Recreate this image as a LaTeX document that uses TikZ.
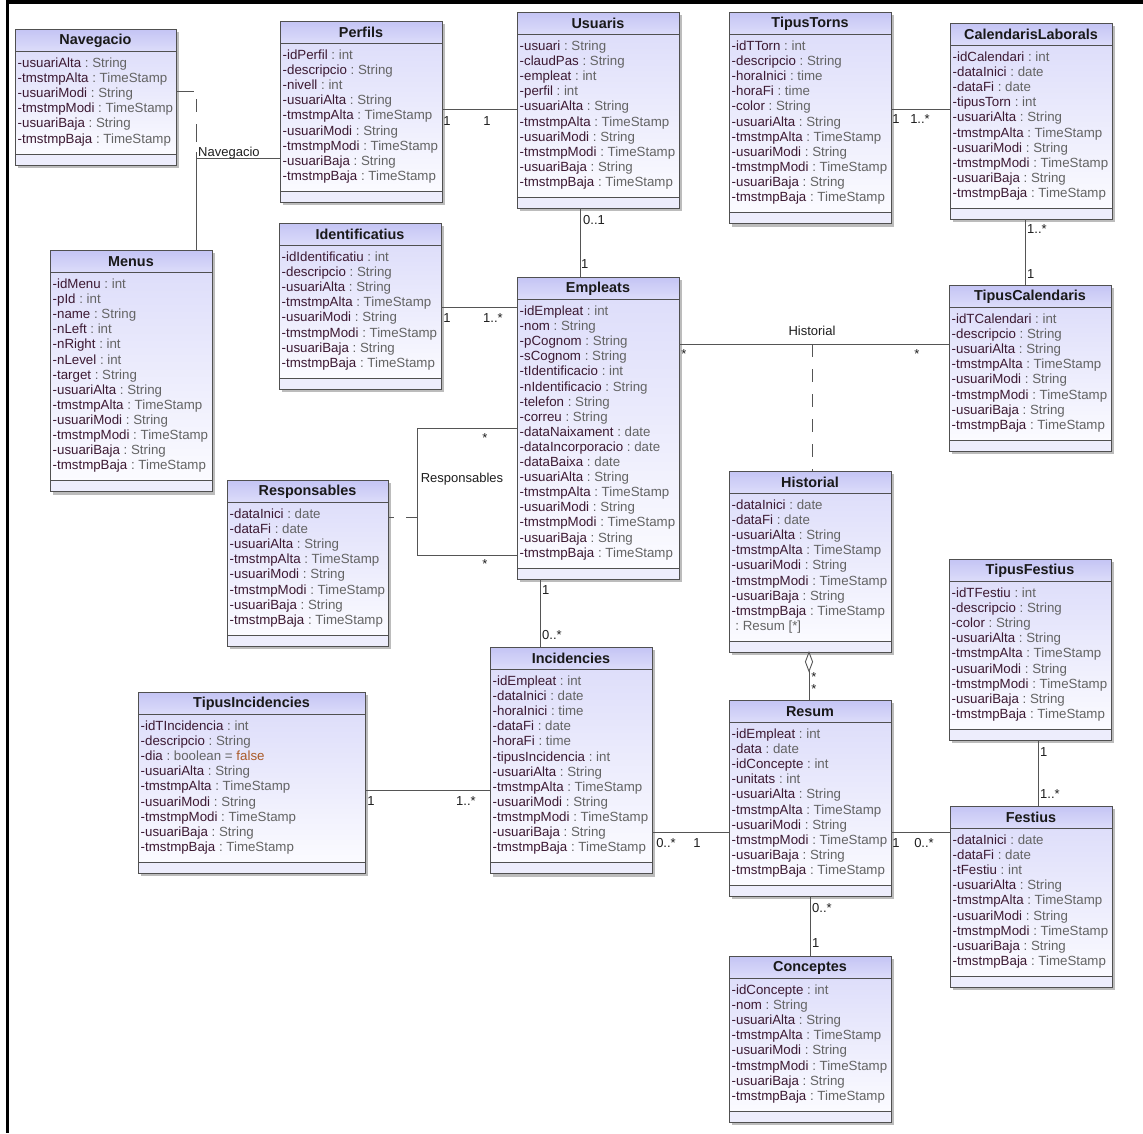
\documentclass[tikz,border=0pt]{standalone}
\usepackage{fontspec}
\setmainfont{Liberation Sans}
\usetikzlibrary{calc}

\definecolor{edgecol}{RGB}{80,80,80}
\definecolor{linkcol}{RGB}{85,85,85}
\definecolor{headtop}{RGB}{196,196,244}
\definecolor{headbot}{RGB}{220,220,250}
\definecolor{bodytop}{RGB}{222,222,250}
\definecolor{bodybot}{RGB}{251,251,255}
\definecolor{shadowcol}{RGB}{160,160,160}
\definecolor{namecol}{RGB}{60,25,50}
\definecolor{typecol}{RGB}{100,100,100}
\definecolor{valcol}{RGB}{170,90,40}
\definecolor{labelcol}{RGB}{30,30,30}

% one attribute row: name in dark, type in grey
\newcommand\at[2]{\textcolor{namecol}{#1}\textcolor{typecol}{\ :\ #2}}

% UML class box: #1 name, #2 left, #3 top, #4 width, #5 rows, #6 title, #7 rows
\newcommand\umlclass[7]{%
  \pgfmathsetmacro\clsh{60.5+(#5-1)*15.1}%
  \pgfmathsetmacro\clscomp{\clsh-11}%
  \fill[shadowcol, opacity=0.7] (#2+3,#3+3) rectangle ++(#4,\clsh);
  \shade[top color=headtop, bottom color=headbot] (#2,#3) rectangle ++(#4,22);
  \shade[top color=bodytop, bottom color=bodybot] (#2,#3+22) rectangle ++(#4,\clscomp-22);
  \fill[bodytop!55] (#2,#3+\clscomp) rectangle ++(#4,11);
  \draw[edgecol, line width=0.9pt] (#2,#3+22) -- ++(#4,0) (#2,#3+\clscomp) -- ++(#4,0);
  \node[classframe, minimum width=#4pt, minimum height=\clsh pt, anchor=north west] (#1) at (#2,#3) {};
  \node[classtitle] (#1-title) at (#2+#4/2,#3+11.5) {#6};
  \foreach \cattr [count=\k from 0] in {#7}
    \node[attrtext, anchor=base west] (#1-row\k) at (#2+2.5,#3+38.5+\k*15.1) {\cattr};
}

\begin{document}
\begin{tikzpicture}[x=1pt,y=-1pt,
  link/.style={draw=linkcol, line width=0.9pt},
  assocdash/.style={link, dash pattern=on 13pt off 12pt},
  mult/.style={font=\fontsize{13}{15}\selectfont, text=labelcol, inner sep=0pt},
  classframe/.style={draw=edgecol, line width=1pt, inner sep=0pt, outer sep=0pt},
  classtitle/.style={font=\fontsize{14.4}{16}\selectfont\bfseries, text=black!90, inner sep=0pt},
  attrtext/.style={font=\fontsize{13.3}{15}\selectfont, inner sep=0pt},
]
\useasboundingbox (0,0) rectangle (1143,1133);
\fill[white] (0,0) rectangle (1143,1133);

% page frame (left and top rules)
\draw[line width=3.5pt] (7.5,0) -- (7.5,1133);
\draw[line width=4pt] (6,2) -- (1143,2);

% ---------------- classes ----------------
\umlclass{navegacio}{15}{29}{161}{6}{Navegacio}{
  \at{-usuariAlta}{String}, \at{-tmstmpAlta}{TimeStamp}, \at{-usuariModi}{String},
  \at{-tmstmpModi}{TimeStamp}, \at{-usuariBaja}{String}, \at{-tmstmpBaja}{TimeStamp}}

\umlclass{perfils}{280}{21}{162}{9}{Perfils}{
  \at{-idPerfil}{int}, \at{-descripcio}{String}, \at{-nivell}{int},
  \at{-usuariAlta}{String}, \at{-tmstmpAlta}{TimeStamp}, \at{-usuariModi}{String},
  \at{-tmstmpModi}{TimeStamp}, \at{-usuariBaja}{String}, \at{-tmstmpBaja}{TimeStamp}}

\umlclass{usuaris}{517}{12}{162}{10}{Usuaris}{
  \at{-usuari}{String}, \at{-claudPas}{String}, \at{-empleat}{int}, \at{-perfil}{int},
  \at{-usuariAlta}{String}, \at{-tmstmpAlta}{TimeStamp}, \at{-usuariModi}{String},
  \at{-tmstmpModi}{TimeStamp}, \at{-usuariBaja}{String}, \at{-tmstmpBaja}{TimeStamp}}

\umlclass{tipustorns}{729}{12}{162}{11}{TipusTorns}{
  \at{-idTTorn}{int}, \at{-descripcio}{String}, \at{-horaInici}{time}, \at{-horaFi}{time},
  \at{-color}{String},
  \at{-usuariAlta}{String}, \at{-tmstmpAlta}{TimeStamp}, \at{-usuariModi}{String},
  \at{-tmstmpModi}{TimeStamp}, \at{-usuariBaja}{String}, \at{-tmstmpBaja}{TimeStamp}}

\umlclass{callaborals}{950}{23}{162}{10}{CalendarisLaborals}{
  \at{-idCalendari}{int}, \at{-dataInici}{date}, \at{-dataFi}{date}, \at{-tipusTorn}{int},
  \at{-usuariAlta}{String}, \at{-tmstmpAlta}{TimeStamp}, \at{-usuariModi}{String},
  \at{-tmstmpModi}{TimeStamp}, \at{-usuariBaja}{String}, \at{-tmstmpBaja}{TimeStamp}}

\umlclass{identificatius}{279}{223}{162}{8}{Identificatius}{
  \at{-idIdentificatiu}{int}, \at{-descripcio}{String},
  \at{-usuariAlta}{String}, \at{-tmstmpAlta}{TimeStamp}, \at{-usuariModi}{String},
  \at{-tmstmpModi}{TimeStamp}, \at{-usuariBaja}{String}, \at{-tmstmpBaja}{TimeStamp}}

\umlclass{empleats}{517}{277}{162}{17}{Empleats}{
  \at{-idEmpleat}{int}, \at{-nom}{String}, \at{-pCognom}{String}, \at{-sCognom}{String},
  \at{-tIdentificacio}{int}, \at{-nIdentificacio}{String}, \at{-telefon}{String},
  \at{-correu}{String}, \at{-dataNaixament}{date}, \at{-dataIncorporacio}{date},
  \at{-dataBaixa}{date},
  \at{-usuariAlta}{String}, \at{-tmstmpAlta}{TimeStamp}, \at{-usuariModi}{String},
  \at{-tmstmpModi}{TimeStamp}, \at{-usuariBaja}{String}, \at{-tmstmpBaja}{TimeStamp}}

\umlclass{tipuscal}{949}{285}{162}{8}{TipusCalendaris}{
  \at{-idTCalendari}{int}, \at{-descripcio}{String},
  \at{-usuariAlta}{String}, \at{-tmstmpAlta}{TimeStamp}, \at{-usuariModi}{String},
  \at{-tmstmpModi}{TimeStamp}, \at{-usuariBaja}{String}, \at{-tmstmpBaja}{TimeStamp}}

\umlclass{menus}{50}{250}{162}{13}{Menus}{
  \at{-idMenu}{int}, \at{-pId}{int}, \at{-name}{String}, \at{-nLeft}{int},
  \at{-nRight}{int}, \at{-nLevel}{int}, \at{-target}{String},
  \at{-usuariAlta}{String}, \at{-tmstmpAlta}{TimeStamp}, \at{-usuariModi}{String},
  \at{-tmstmpModi}{TimeStamp}, \at{-usuariBaja}{String}, \at{-tmstmpBaja}{TimeStamp}}

\umlclass{responsables}{227}{480}{161}{8}{Responsables}{
  \at{-dataInici}{date}, \at{-dataFi}{date},
  \at{-usuariAlta}{String}, \at{-tmstmpAlta}{TimeStamp}, \at{-usuariModi}{String},
  \at{-tmstmpModi}{TimeStamp}, \at{-usuariBaja}{String}, \at{-tmstmpBaja}{TimeStamp}}

\umlclass{historial}{729}{471}{162}{9}{Historial}{
  \at{-dataInici}{date}, \at{-dataFi}{date},
  \at{-usuariAlta}{String}, \at{-tmstmpAlta}{TimeStamp}, \at{-usuariModi}{String},
  \at{-tmstmpModi}{TimeStamp}, \at{-usuariBaja}{String}, \at{-tmstmpBaja}{TimeStamp},
  \at{}{Resum [*]}}

\umlclass{tipusfestius}{949}{559}{162}{9}{TipusFestius}{
  \at{-idTFestiu}{int}, \at{-descripcio}{String}, \at{-color}{String},
  \at{-usuariAlta}{String}, \at{-tmstmpAlta}{TimeStamp}, \at{-usuariModi}{String},
  \at{-tmstmpModi}{TimeStamp}, \at{-usuariBaja}{String}, \at{-tmstmpBaja}{TimeStamp}}

\umlclass{tipusinc}{138}{692}{227}{9}{TipusIncidencies}{
  \at{-idTIncidencia}{int}, \at{-descripcio}{String},
  \at{-dia}{boolean = \textcolor{valcol}{false}},
  \at{-usuariAlta}{String}, \at{-tmstmpAlta}{TimeStamp}, \at{-usuariModi}{String},
  \at{-tmstmpModi}{TimeStamp}, \at{-usuariBaja}{String}, \at{-tmstmpBaja}{TimeStamp}}

\umlclass{incidencies}{490}{647}{162}{12}{Incidencies}{
  \at{-idEmpleat}{int}, \at{-dataInici}{date}, \at{-horaInici}{time}, \at{-dataFi}{date},
  \at{-horaFi}{time}, \at{-tipusIncidencia}{int},
  \at{-usuariAlta}{String}, \at{-tmstmpAlta}{TimeStamp}, \at{-usuariModi}{String},
  \at{-tmstmpModi}{TimeStamp}, \at{-usuariBaja}{String}, \at{-tmstmpBaja}{TimeStamp}}

\umlclass{resum}{729}{700}{162}{10}{Resum}{
  \at{-idEmpleat}{int}, \at{-data}{date}, \at{-idConcepte}{int}, \at{-unitats}{int},
  \at{-usuariAlta}{String}, \at{-tmstmpAlta}{TimeStamp}, \at{-usuariModi}{String},
  \at{-tmstmpModi}{TimeStamp}, \at{-usuariBaja}{String}, \at{-tmstmpBaja}{TimeStamp}}

\umlclass{festius}{950}{806}{162}{9}{Festius}{
  \at{-dataInici}{date}, \at{-dataFi}{date}, \at{-tFestiu}{int},
  \at{-usuariAlta}{String}, \at{-tmstmpAlta}{TimeStamp}, \at{-usuariModi}{String},
  \at{-tmstmpModi}{TimeStamp}, \at{-usuariBaja}{String}, \at{-tmstmpBaja}{TimeStamp}}

\umlclass{conceptes}{729}{956}{162}{8}{Conceptes}{
  \at{-idConcepte}{int}, \at{-nom}{String},
  \at{-usuariAlta}{String}, \at{-tmstmpAlta}{TimeStamp}, \at{-usuariModi}{String},
  \at{-tmstmpModi}{TimeStamp}, \at{-usuariBaja}{String}, \at{-tmstmpBaja}{TimeStamp}}

% ---------------- associations ----------------
% Menus -- Perfils, with association class Navegacio
\coordinate (navbend) at (196,158);
\coordinate (navjoin) at (196,91);
\draw[link] (perfils.west |- navbend) -- (navbend) -- (menus.north -| navbend);
\draw[link, dash pattern=on 18pt off 10pt on 13pt off 12pt] (navegacio.east |- navjoin) -- (navjoin) -- (navbend);
\node[mult, anchor=west] (lbl-nav) at (198,153) {Navegacio};

% Perfils -- Usuaris
\draw[link] (perfils.east |- 0,109) -- (usuaris.west |- 0,109);
\node[mult] (m-pu-a) at (447,121) {1};
\node[mult] (m-pu-b) at (487,121) {1};

% Usuaris -- Empleats
\draw[link] (usuaris.south -| 580,0) -- (empleats.north -| 580,0);
\node[mult, anchor=west] (m-ue-a) at (583,220) {0..1};
\node[mult, anchor=west] (m-ue-b) at (581,264) {1};

% TipusTorns -- CalendarisLaborals
\draw[link] (tipustorns.east |- 0,109) -- (callaborals.west |- 0,109);
\node[mult] (m-tc-a) at (896,119) {1};
\node[mult] (m-tc-b) at (920,119) {1..*};

% CalendarisLaborals -- TipusCalendaris
\draw[link] (callaborals.south -| 1025,0) -- (tipuscal.north -| 1025,0);
\node[mult, anchor=west] (m-ct-a) at (1027,229) {1..*};
\node[mult, anchor=west] (m-ct-b) at (1027,274) {1};

% Identificatius -- Empleats
\draw[link] (identificatius.east |- 0,307) -- (empleats.west |- 0,307);
\node[mult] (m-ie-a) at (447,318) {1};
\node[mult] (m-ie-b) at (493,318) {1..*};

% Empleats -- TipusCalendaris, with association class Historial
\coordinate (histjoin) at (812,344);
\draw[link] (empleats.east |- histjoin) -- (tipuscal.west |- histjoin);
\draw[assocdash] (histjoin) -- (historial.north -| histjoin);
\node[mult] (lbl-hist) at (812,331) {Historial};
\node[mult] (m-et-a) at (684,354) {*};
\node[mult] (m-et-b) at (917,354) {*};

% Empleats -- Empleats, with association class Responsables
\coordinate (respA) at (417,428);
\coordinate (respB) at (417,555);
\coordinate (respjoin) at (417,517);
\draw[link] (empleats.west |- respA) -- (respA) -- (respB) -- (empleats.west |- respB);
\draw[link, dash pattern=on 6pt off 12pt on 12pt off 0pt] (responsables.east |- respjoin) -- (respjoin);
\node[mult] (lbl-resp) at (462,479) {Responsables};
\node[mult] (m-ee-a) at (485,438) {*};
\node[mult] (m-ee-b) at (485,564) {*};

% Empleats -- Incidencies
\draw[link] (empleats.south -| 540,0) -- (incidencies.north -| 540,0);
\node[mult, anchor=west] (m-ei-a) at (542,590) {1};
\node[mult, anchor=west] (m-ei-b) at (542,635) {0..*};

% TipusIncidencies -- Incidencies
\draw[link] (tipusinc.east |- 0,790) -- (incidencies.west |- 0,790);
\node[mult] (m-ti-a) at (371,801) {1};
\node[mult] (m-ti-b) at (466,801) {1..*};

% Incidencies -- Resum
\draw[link] (incidencies.east |- 0,832) -- (resum.west |- 0,832);
\node[mult] (m-ir-a) at (666,843) {0..*};
\node[mult] (m-ir-b) at (697,843) {1};

% Resum -- Festius
\draw[link] (resum.east |- 0,832) -- (festius.west |- 0,832);
\node[mult] (m-rf-a) at (896,843) {1};
\node[mult] (m-rf-b) at (924,843) {0..*};

% Historial <>-- Resum (aggregation)
\coordinate (aggtop) at (historial.south -| 809,0);
\coordinate (aggtip) at ($(aggtop)+(0,19)$);
\draw[link, fill=white] (aggtop) -- ++(3.6,9.5) -- (aggtip) -- ++(-3.6,-9.5) -- cycle;
\draw[link] (aggtip) -- (resum.north -| aggtip);
\node[mult] (m-hr-a) at (814,677) {*};
\node[mult] (m-hr-b) at (814,689) {*};

% Resum -- Conceptes
\draw[link] (resum.south -| 810,0) -- (conceptes.north -| 810,0);
\node[mult, anchor=west] (m-rc-a) at (812,908) {0..*};
\node[mult, anchor=west] (m-rc-b) at (812,943) {1};

% TipusFestius -- Festius
\draw[link] (tipusfestius.south -| 1038,0) -- (festius.north -| 1038,0);
\node[mult, anchor=west] (m-tf-a) at (1040,752) {1};
\node[mult, anchor=west] (m-tf-b) at (1040,794) {1..*};
\end{tikzpicture}
\end{document}
